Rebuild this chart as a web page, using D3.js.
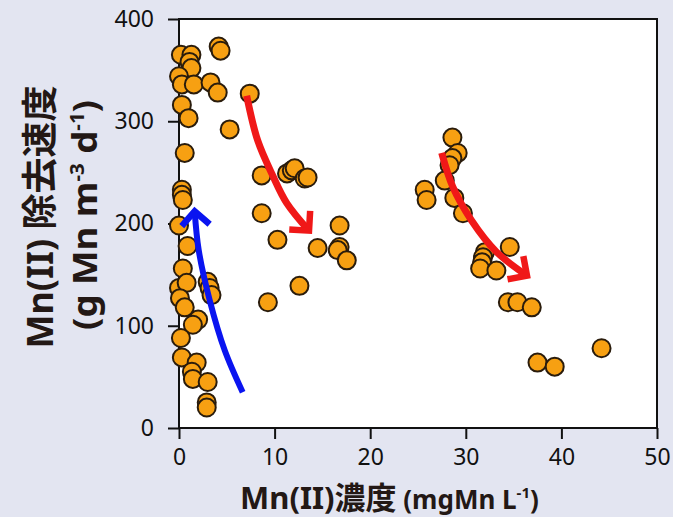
<!DOCTYPE html>
<html>
<head>
<meta charset="utf-8">
<script src="https://cdn.jsdelivr.net/npm/d3@7"></script>
<style>
  body { margin: 0; background: #e3e5f1; }
  svg { display: block; }
  .tick text { font-family: "Noto Sans", sans-serif; font-size: 23px; fill: #111; }
  .title { font-family: "Noto Sans", "Noto Sans CJK JP", sans-serif; font-weight: bold; fill: #231815; }
</style>
</head>
<body>
<div id="chart"></div>
<script>
// Mn(II) concentration (mgMn/L) and removal rate (g Mn m-3 d-1)
var concX = [0.2, 1.3, 1.1, 1.3, 4.15, 4.35, 0.0, 0.3, 1.55, 3.3, 4.05, 0.3, 1.0, 5.3, 0.6,
             0.3, 0.3, 0.4, 0.0, 0.9, 0.4, 0.0, 0.8, 0.1, 3.0, 3.2, 3.4, 0.6, 2.0, 1.45,
             0.2, 0.3, 1.85, 1.35, 1.45, 3.0, 2.9, 2.9,
             7.4, 8.65, 11.3, 11.8, 12.1, 13.15, 13.45, 8.65, 10.3, 16.8, 14.5, 16.8, 16.6, 17.55, 12.6, 9.3,
             28.6, 29.15, 28.6, 28.3, 27.8, 25.7, 25.9, 28.8, 29.7, 34.6, 32.0, 31.8, 31.7, 31.5, 33.2,
             34.4, 35.4, 36.9, 37.5, 39.3, 44.2];
var rateY = [365, 365, 358, 352, 373, 369, 344, 336, 336, 338, 328, 316, 303, 292, 269,
             233, 228, 223, 198, 178, 156, 137, 142, 127, 143, 137, 130, 118, 106, 101,
             88, 69, 64, 55, 48, 45, 25, 20,
             327, 247, 249, 252, 254, 244, 245, 210, 184, 198, 176, 177, 174, 164, 139, 123,
             284, 269, 264, 257, 242, 233, 223, 225, 210, 177, 172, 167, 162, 156, 154,
             123, 123, 118, 64, 60, 78];

// trend arrows (data units)
var blueArrow = [[6.66, 35], [4.78, 76], [3.21, 125], [2.06, 174], [1.64, 212]];
var redArrow1 = [[7.08, 325], [8.24, 281], [9.8, 247], [11.27, 220], [13.6, 193]];
var redArrow2 = [[27.48, 269], [28.63, 236], [30.6, 203], [33.23, 172], [36.4, 149]];

var xTicks = [0, 10, 20, 30, 40, 50];
var yTicks = [0, 100, 200, 300, 400];

var svgWidth = 673, svgHeight = 517;
var margins = { top: 19, right: 16, bottom: 89, left: 179 };
var width = svgWidth - margins.left - margins.right;
var height = svgHeight - margins.top - margins.bottom;

var svg = d3.select("#chart").append("svg")
    .attr("width", svgWidth)
    .attr("height", svgHeight);

var defs = svg.append("defs");
[["head-blue", "#0a14f0"], ["head-red", "#f01818"]].forEach(function(m) {
    defs.append("marker")
        .attr("id", m[0])
        .attr("markerUnits", "userSpaceOnUse")
        .attr("viewBox", "-20 -20 26 40")
        .attr("markerWidth", 26)
        .attr("markerHeight", 40)
        .attr("refX", 0).attr("refY", 0)
        .attr("orient", "auto")
        .append("path")
        .attr("d", "M-14,-14 L0,0 L-14,14")
        .attr("fill", "none")
        .attr("stroke", m[1])
        .attr("stroke-width", 6.5)
        .attr("stroke-linecap", "butt")
        .attr("stroke-linejoin", "miter");
});

var chartGroup = svg.append("g")
    .attr("transform", `translate(${margins.left}, ${margins.top})`);

chartGroup.append("rect")
    .attr("width", width)
    .attr("height", height)
    .attr("fill", "#fff");

var xScale = d3.scaleLinear().domain([0, 50]).range([0, width]);
var yScale = d3.scaleLinear().domain([0, 400]).range([height, 0]);

var bottomAxis = d3.axisBottom(xScale).tickValues(xTicks).tickSize(11).tickPadding(10);
var leftAxis = d3.axisLeft(yScale).tickValues(yTicks).tickSize(11).tickPadding(14);

var gx = chartGroup.append("g")
    .attr("transform", `translate(0, ${height})`)
    .call(bottomAxis);
var gy = chartGroup.append("g").call(leftAxis);
[gx, gy].forEach(function(g) {
    g.select(".domain").remove();
    g.selectAll(".tick line").attr("stroke", "#111").attr("stroke-width", 2);
});

// frame
chartGroup.append("rect")
    .attr("width", width)
    .attr("height", height)
    .attr("fill", "none")
    .attr("stroke", "#111")
    .attr("stroke-width", 2);

var line = d3.line()
    .x(d => xScale(d[0]))
    .y(d => yScale(d[1]))
    .curve(d3.curveCatmullRom);

var data = concX.map((x, i) => ({ x: x, y: rateY[i] }));

chartGroup.selectAll("circle")
    .data(data)
    .enter()
    .append("circle")
    .attr("cx", d => xScale(d.x))
    .attr("cy", d => yScale(d.y))
    .attr("r", 9)
    .attr("fill", "#f7a012")
    .attr("stroke", "#2a1c0c")
    .attr("stroke-width", 2);

chartGroup.append("path")
    .attr("d", line(blueArrow))
    .attr("fill", "none")
    .attr("stroke", "#0a14f0")
    .attr("stroke-width", 6)
    .attr("marker-end", "url(#head-blue)");

[redArrow1, redArrow2].forEach(function(a) {
    chartGroup.append("path")
        .attr("d", line(a))
        .attr("fill", "none")
        .attr("stroke", "#f01818")
        .attr("stroke-width", 7)
        .attr("marker-end", "url(#head-red)");
});

// y axis title (two lines)
svg.append("text")
    .attr("class", "title")
    .attr("text-anchor", "middle")
    .attr("transform", "translate(53, 217) rotate(-90)")
    .style("font-size", "36px")
    .text("Mn(II) 除去速度");

var yt2 = svg.append("text")
    .attr("class", "title")
    .attr("text-anchor", "middle")
    .attr("transform", "translate(97, 215) rotate(-90)")
    .attr("textLength", 230)
    .attr("lengthAdjust", "spacingAndGlyphs")
    .style("font-size", "34px");
yt2.append("tspan").text("(g Mn m");
yt2.append("tspan").attr("dy", -13).style("font-size", "19px").text("-3");
yt2.append("tspan").attr("dy", 13).text(" d");
yt2.append("tspan").attr("dy", -13).style("font-size", "19px").text("-1");
yt2.append("tspan").attr("dy", 13).text(")");

// x axis title
var xt = svg.append("text")
    .attr("class", "title")
    .attr("x", 240)
    .attr("y", 509)
    .style("font-size", "31px");
xt.append("tspan").text("Mn(II)濃度");
xt.append("tspan").style("font-size", "26px").text(" (mgMn L");
xt.append("tspan").attr("dy", -11).style("font-size", "15px").text("-1");
xt.append("tspan").attr("dy", 11).style("font-size", "26px").text(")");
</script>
</body>
</html>
